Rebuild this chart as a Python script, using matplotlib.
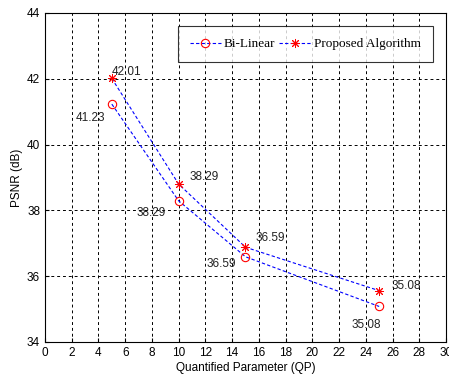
import matplotlib
matplotlib.use("Agg")
import matplotlib.pyplot as plt

qp = [5, 10, 15, 25]
bilinear = [41.23, 38.29, 36.59, 35.08]
proposed = [42.01, 38.80, 36.88, 35.56]
bilinear_labels = ["41.23", "38.29", "36.59", "35.08"]
proposed_labels = ["42.01", "38.29", "36.59", "35.08"]
xticks = list(range(0, 31, 2))
yticks = [34, 36, 38, 40, 42, 44]

fig = plt.figure(figsize=(4.49, 3.81), dpi=100)
ax = fig.add_axes([0.1002, 0.1024, 0.8931, 0.8635])

ax.plot(qp, bilinear, color="blue", linestyle=(0, (3, 2)), linewidth=0.8,
        marker="o", markersize=6, markerfacecolor="none", markeredgecolor="red",
        markeredgewidth=0.8, label="Bi-Linear")
ax.plot(qp, proposed, color="blue", linestyle=(0, (3, 2)), linewidth=0.8,
        marker=(8, 2, 0), markersize=6.5, markerfacecolor="red", markeredgecolor="red",
        markeredgewidth=0.7, label="Proposed Algorithm")

lab_font = dict(family="Liberation Sans", fontsize=8.5, color="#222222")
# offsets in points for each label (styles)
p_off = [(0, 5), (8, 5), (7, 7), (9, 3)]
b_off = [(-26, -10), (-30, -9), (-28, -5), (-20, -13)]
for x, y, t, o in zip(qp, proposed, proposed_labels, p_off):
    ax.annotate(t, (x, y), xytext=o, textcoords="offset points",
                ha="left", va="center", **lab_font)
for x, y, t, o in zip(qp, bilinear, bilinear_labels, b_off):
    ax.annotate(t, (x, y), xytext=o, textcoords="offset points",
                ha="left", va="center", **lab_font)

ax.set_xlim(0, 30)
ax.set_ylim(34, 44)
ax.set_xticks(xticks)
ax.set_yticks(yticks)
ax.grid(True, color="black", linestyle=(0, (3, 3)), linewidth=0.7)
ax.tick_params(direction="in", length=3, labelsize=8.5, width=0.8)
for lbl in ax.get_xticklabels() + ax.get_yticklabels():
    lbl.set_family("Liberation Sans")
for s in ax.spines.values():
    s.set_linewidth(0.8)

ax.set_xlabel("Quantified Parameter (QP)", family="Liberation Sans", fontsize=8.5, labelpad=2)
ax.set_ylabel("PSNR (dB)", family="Liberation Sans", fontsize=8.5, labelpad=3)

leg = ax.legend(loc="upper right", bbox_to_anchor=(0.983, 0.98), ncol=2,
                prop={"family": "Liberation Serif", "size": 9.5},
                frameon=True, fancybox=False, handlelength=2.4, columnspacing=0.3,
                handletextpad=0.2, borderpad=0.9)
leg.get_frame().set_edgecolor("black")
leg.get_frame().set_linewidth(0.8)

fig.savefig("out.png", dpi=100)
